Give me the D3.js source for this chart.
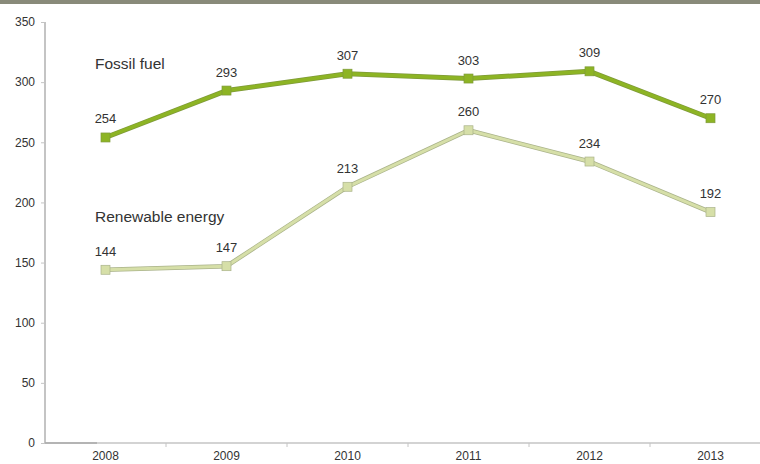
<!DOCTYPE html>
<html><head><meta charset="utf-8">
<script src="https://cdn.jsdelivr.net/npm/d3@7"></script>
<style>
body{margin:0;background:#fff;}
svg{display:block;}
</style></head>
<body>
<svg id="chart" width="760" height="464"></svg>
<script>
const years = ["2008","2009","2010","2011","2012","2013"];
const fossil = [254,293,307,303,309,270];
const renewable = [144,147,213,260,234,192];
const yTicks = [0,50,100,150,200,250,300,350];
const seriesNames = ["Fossil fuel","Renewable energy"];

const svg = d3.select("#chart");
const W = 760, H = 464;
const x0 = 45;
const x = d3.scaleBand().domain(years).range([x0, x0 + 6*121]);
const y = d3.scaleLinear().domain([0,350]).range([443,22]);

svg.append("rect").attr("x",0).attr("y",0).attr("width",W).attr("height",4).attr("fill","#898a7a");

const tickFont = "'Liberation Sans Narrow','Arial Narrow','Liberation Sans',Arial,sans-serif";
const font = "'Liberation Sans',Arial,sans-serif";

// y axis
const gy = svg.append("g").attr("transform",`translate(${x0},0)`)
  .call(d3.axisLeft(y).tickValues(yTicks).tickSize(4).tickPadding(6).tickFormat(d3.format("d")));
gy.select(".domain").attr("stroke","#c4c4c4").attr("stroke-width",2).attr("d",`M0,${y(350)}V${y(0)}`);
gy.selectAll(".tick line").attr("stroke","#c4c4c4");
gy.selectAll("text").attr("font-family",tickFont).attr("font-size",12).attr("fill","#333");

// x axis
const gx = svg.append("g").attr("transform",`translate(0,${y(0)})`)
  .call(d3.axisBottom(x).tickSize(0).tickPadding(8));
gx.select(".domain").attr("stroke","#c4c4c4").attr("stroke-width",1.5).attr("d",`M${x0},0H${W}`);
gx.selectAll("text").attr("font-family",tickFont).attr("font-size",12).attr("fill","#333");
gx.selectAll(".bt").data(years.slice(1)).enter().append("line")
  .attr("x1",d=>x(d)).attr("x2",d=>x(d)).attr("y1",0).attr("y2",4).attr("stroke","#c4c4c4");
svg.append("line").attr("x1",x0).attr("x2",x0+52).attr("y1",y(0)).attr("y2",y(0)).attr("stroke","#aaa").attr("stroke-width",1.5);

const cx = d => x(d) + x.bandwidth()/2;
const line = d3.line().x((d,i)=>cx(years[i])).y(d=>y(d));

function series(data, outline, fill, w){
  const g = svg.append("g");
  g.append("path").datum(data).attr("d",line).attr("fill","none").attr("stroke",outline).attr("stroke-width",w+1.5).attr("stroke-linejoin","round");
  g.append("path").datum(data).attr("d",line).attr("fill","none").attr("stroke",fill).attr("stroke-width",w).attr("stroke-linejoin","round");
  g.selectAll("rect").data(data).enter().append("rect")
    .attr("x",(d,i)=>cx(years[i])-4.5).attr("y",d=>y(d)-4.5).attr("width",9).attr("height",9)
    .attr("fill",fill).attr("stroke",outline).attr("stroke-width",0.7);
  g.selectAll("text").data(data).enter().append("text")
    .attr("x",(d,i)=>cx(years[i])).attr("y",d=>y(d)-14)
    .attr("text-anchor","middle").attr("font-family",font).attr("font-size",13).attr("fill","#333")
    .text(d=>d);
}
series(fossil, "#7f9a3a", "#8db424", 3.5);
series(renewable, "#aab38a", "#d6dfa8", 3);

svg.append("text").attr("x",95).attr("y",69).attr("font-family",font).attr("font-size",15.5).attr("fill","#333").text(seriesNames[0]);
svg.append("text").attr("x",95).attr("y",222).attr("font-family",font).attr("font-size",15.5).attr("fill","#333").text(seriesNames[1]);
</script>
</body></html>
